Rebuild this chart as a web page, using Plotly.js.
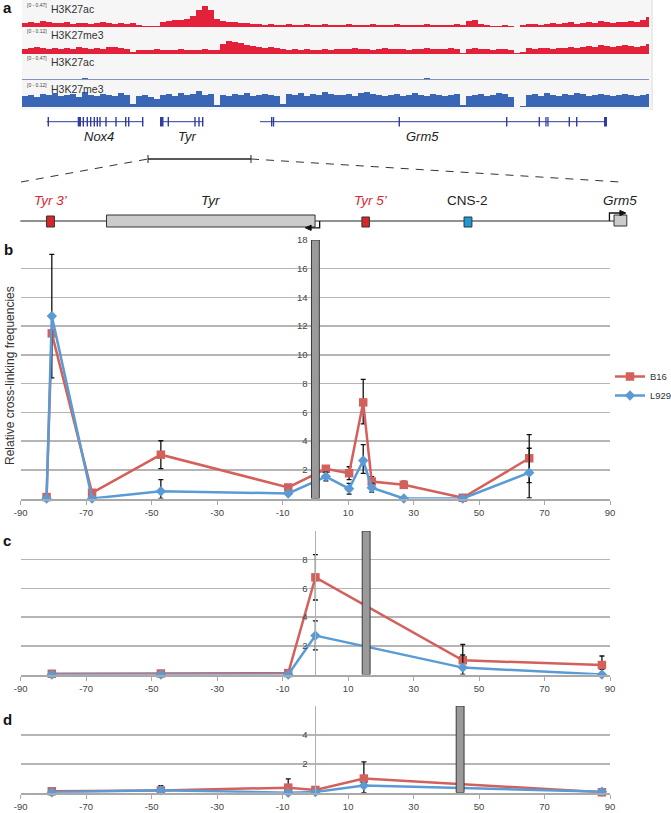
<!DOCTYPE html>
<html><head><meta charset="utf-8">
<script src="https://cdn.plot.ly/plotly-3.0.1.min.js"></script>
<style>html,body{margin:0;padding:0;background:#fff}#chart{width:671px;height:813px}</style>
</head><body><div id="chart"></div>
<script>
// ---------- shared tick labels ----------
const xTickVals = [-90, -70, -50, -30, -10, 10, 30, 50, 70, 90];
const xTickText = ['-90', '-70', '-50', '-30', '-10', '10', '30', '50', '70', '90'];

// ---------- panel b ----------
const posB = [-82.1, -80.5, -68.2, -47.2, -8.3, 3.2, 10.3, 14.6, 17.2, 27.0, 45.0, 65.3];
const b16B = [0.1, 11.5, 0.4, 3.05, 0.77, 2.07, 1.76, 6.69, 1.18, 0.95, 0.05, 2.8];
const b16BErrUp = [0, 0, 0.2, 0.97, 0.2, 0.2, 0.45, 1.6, 0.35, 0.25, 0, 1.65];
const b16BErrDn = [0, 0, 0.2, 0.97, 0.2, 0.2, 0.45, 1.5, 0.35, 0.25, 0, 1.7];
const l929B = [0, 12.7, 0, 0.51, 0.35, 1.53, 0.68, 2.65, 0.75, 0, 0, 1.8];
const l929BErrUp = [0, 4.3, 0, 0.8, 0.1, 0.3, 0.38, 1.1, 0.3, 0, 0, 1.7];
const l929BErrDn = [0, 4.3, 0, 0.51, 0.1, 0.3, 0.38, 0.9, 0.3, 0, 0, 1.75];
const yTickB = [2, 4, 6, 8, 10, 12, 14, 16, 18];

// ---------- panel c ----------
const posC = [-80.5, -47.2, -8.3, 0, 45, 87.5];
const b16C = [0.05, 0.07, 0.1, 6.77, 0.99, 0.66];
const b16CErrUp = [0, 0, 0, 1.58, 1.1, 0.63];
const b16CErrDn = [0, 0, 0, 1.58, 0.6, 0.3];
const l929C = [0, 0, 0, 2.71, 0.48, 0];
const l929CErrUp = [0, 0, 0, 1.03, 0.88, 0];
const l929CErrDn = [0, 0, 0, 1.0, 0.48, 0];
const yTickC = [2, 4, 6, 8, 10];
const yTickTextC = ['2', '4', '6', '8', ''];

// ---------- panel d ----------
const posD = [-80.5, -47.2, -8.3, 0, 14.8, 87.5];
const b16D = [0.1, 0.15, 0.35, 0.19, 0.98, 0.03];
const b16DErrUp = [0, 0.33, 0.6, 0.12, 1.15, 0];
const b16DErrDn = [0, 0.1, 0.2, 0.1, 0.3, 0];
const l929D = [0.03, 0.17, 0, 0.05, 0.49, 0.07];
const l929DErrUp = [0, 0.1, 0, 0, 0.2, 0];
const l929DErrDn = [0, 0.1, 0, 0.05, 0.49, 0];
const yTickD = [2, 4, 6];
const yTickTextD = ['2', '4', ''];

// viewpoints (grey bars) for b, c, d
const viewpointPos = [0, 15.5, 44.2];
const viewpointTop = [18, 10, 6];
const viewpointWidth = 2.4;

// ---------- locus diagram (kb, same scale as b) ----------
const locusStart = -90.1, locusEnd = 94.9;
const featNames = ['<i>Tyr 3’</i>', '<i>Tyr</i>', '<i>Tyr 5’</i>', 'CNS-2', '<i>Grm5</i>'];
const featStart = [-82.1, -63.8, 14.2, 45.4, 91.2];
const featEnd = [-79.7, -0.1, 16.5, 47.8, 95.1];

// ---------- panel a : browser tracks (bin = 6 units) ----------
const trackNames = ['H3K27ac', 'H3K27me3', 'H3K27ac', 'H3K27me3'];
const trackRanges = ['[0 - 0.47]', '[0 - 0.12]', '[0 - 0.47]', '[0 - 0.12]'];
const trackMax = [0.47, 0.12, 0.47, 0.12];
const acB16 = [0.086,0.107,0.086,0.128,0.107,0.086,0.086,0.107,0.064,0.086,0.086,0.064,0.086,0.107,0.086,0.064,0.086,0.064,0.086,0.043,
 0.032,0.021,0.032,0.107,0.128,0.15,0.15,0.171,0.235,0.363,0.449,0.363,0.171,0.128,0.107,0.107,0.086,0.086,0.064,0.064,0.043,0.064,0.043,
 0.043,0.064,0.043,0.043,0.064,0.043,0.043,0.064,0.043,0.043,
 0.043,0.064,0.043,0.043,0.043,0.064,0.043,0.043,0.043,0.064,0.043,0.043,0.043,0.043,0.064,0.043,0.043,0.043,0.043,0.064,0.043,
 0.128,0.15,0.064,0.043,0.032,0.032,0.043,0.032,0,0.043,0.064,0.064,0.043,0.064,0.086,0.064,0.086,0.107,0.064,
 0.086,0.107,0.086,0.128,0.107,0.086,0.107,0.107,0.128,0.107,0.15,0.214];
const me3B16 = [0.027,0.033,0.038,0.033,0.027,0.033,0.027,0.033,0.027,0.038,0.033,0.027,0.033,0.027,0.038,0.038,0.033,0.027,
 0.011,0.022,
 0.022,0.022,0.027,0.022,0.022,0.022,0.027,0.022,0.022,0.022,0.027,0.022,0.022,
 0.055,0.071,0.065,0.06,0.049,0.044,0.038,0.033,0.038,0.033,0.027,
 0.022,0.027,0.022,0.027,0.022,0.022,0.027,0.022,0.027,
 0.027,0.027,0.033,0.027,0.027,0.022,0.027,0.033,0.027,0.027,0.027,0.022,0.027,0.027,0.033,0.027,0.027,0.027,0.033,0.027,
 0.005,0.027,0.033,0.027,0.027,0.022,0.027,0.027,0.022,0.005,0.011,
 0.033,0.027,0.033,0.033,0.027,0.033,0.033,0.038,0.033,
 0.038,0.044,0.038,0.049,0.044,0.038,0.044,0.049,0.044,0.038,0.044,0.055];
const acL929 = [0.011,0.011,0.011,0.011,0.011,0.011,0.017,0.011,0.011,0.011,0.043,0.017,0.032,0.011,0.017,0.011,0.021,0.011,0.011,0.011,
 0.017,0.011,0.011,0.021,0.011,0.021,0.011,0.011,0.026,0.011,0.011,0.017,0.021,0.011,0.011,0.021,0.011,0.017,0.011,0.021,
 0.011,0.011,0.017,0.011,0.021,0.011,0.011,0.011,0.021,0.011,0.017,0.011,0.011,0.021,0.011,0.017,0.011,0.011,0.021,0.011,
 0.011,0.017,0.011,0.011,0.021,0.011,0.011,0.053,0.017,0.011,0.011,0.021,0.011,0.011,0.017,0.011,0.011,0.011,0.017,0.011,
 0.011,0.011,0.011,0.011,0.011,0.017,0.011,0.021,0.011,0.011,0.032,0.011,0.011,0.021,0.011,0.032,0.011,0.011,0.011,0.021,0.011,0.011,0.021,0.011,0.017];
const me3L929 = [0.06,0.065,0.055,0.071,0.065,0.076,0.06,0.065,0.071,0.055,0.082,0.065,0.06,0.071,0.065,0.06,0.076,0.065,
 0.016,0.06,0.065,0.055,0.044,
 0.065,0.071,0.06,0.076,0.065,0.071,0.087,0.065,0.071,0.011,
 0.065,0.06,0.071,0.065,0.076,0.06,0.065,0.071,0.065,0.06,0.016,
 0.071,0.065,0.076,0.06,0.071,0.065,0.082,0.071,0.065,
 0.065,0.071,0.06,0.076,0.082,0.071,0.065,0.06,0.065,0.071,0.06,0.065,0.076,0.065,0.06,0.071,0.065,0.06,0.065,0.071,
 0.011,0.06,0.065,0.071,0.06,0.065,0.076,0.071,0.055,0,0.005,
 0.065,0.071,0.06,0.076,0.065,0.06,0.071,0.065,0.076,0.071,0.06,0.065,0.071,0.065,0.06,0.065,0.071,0.065,0.06,0.065,0.071];
const binWidth = 6;

// gene models (track coordinates)
const geneNames = ['<i>Nox4</i>', '<i>Tyr</i>', '<i>Grm5</i>'];
const geneStarts = [24.7, 138, 238];
const geneEnds = [121.3, 181.3, 584];
const geneLabelPos = [77, 165, 400];
const exonStarts = [25.6,55.7,60.6,64.6,68,71.6,74.6,77.3,83.3,93.3,103,106,120, 138,145.6,172.3,176.3,180, 249,250.9,376.6,484,516.6,523.3,525.3,546.6,554,582];
const exonEnds   = [27,59,62,66,69.4,73,76,78.7,84.7,94.7,104.4,107.4,121.4, 141.5,147,173.7,177.7,181.4, 250.4,252.2,378,485.4,518,524.6,526.6,548,555.4,585];

// ---------- helpers (layout px -> paper) ----------
const W = 671, H = 813;
const X = px => px / W;
const Y = py => 1 - py / H;

const RED = '#d4605b', BLUE = '#5b9bd5';
const FONT = 'Liberation Sans, Arial, Helvetica, sans-serif';
const errStyle = (up, dn) => ({type: 'data', symmetric: false, array: up, arrayminus: dn, color: '#111', thickness: 1.3, width: 2.5});

function series(x, y, up, dn, name, color, symbol, xa, ya, legend) {
  return {
    x: x, y: y, xaxis: xa, yaxis: ya, type: 'scatter', mode: 'lines+markers', name: name,
    legendgroup: name, showlegend: legend, cliponaxis: false,
    line: {color: color, width: 2.5},
    marker: {symbol: symbol, size: symbol === 'square' ? 8.5 : 8, color: color},
    error_y: errStyle(up, dn), hoverinfo: 'skip'
  };
}

const data = [
  series(posB, b16B, b16BErrUp, b16BErrDn, 'B16', RED, 'square', 'x', 'y', true),
  series(posB, l929B, l929BErrUp, l929BErrDn, 'L929', BLUE, 'diamond', 'x', 'y', true),
  series(posC, b16C, b16CErrUp, b16CErrDn, 'B16', RED, 'square', 'x2', 'y2', false),
  series(posC, l929C, l929CErrUp, l929CErrDn, 'L929', BLUE, 'diamond', 'x2', 'y2', false),
  series(posD, b16D, b16DErrUp, b16DErrDn, 'B16', RED, 'square', 'x3', 'y3', false),
  series(posD, l929D, l929DErrUp, l929DErrDn, 'L929', BLUE, 'diamond', 'x3', 'y3', false),
  // locus backbone
  {x: [locusStart, locusEnd], y: [0, 0], xaxis: 'x5', yaxis: 'y8', type: 'scatter', mode: 'lines',
   line: {color: '#222', width: 1}, showlegend: false, hoverinfo: 'skip'}
];

const trackData = [acB16, me3B16, acL929, me3L929];
const trackColors = ['#e3213a', '#e3213a', '#3a66b6', '#3a66b6'];
trackData.forEach((vals, k) => {
  data.push({
    type: 'bar', x: vals.map((_, i) => (i + 0.5) * binWidth), y: vals, width: binWidth,
    xaxis: 'x4', yaxis: 'y' + (4 + k), marker: {color: trackColors[k], line: {width: 0}},
    showlegend: false, hoverinfo: 'skip'
  });
});

// ---------- shapes ----------
const shapes = [];
shapes.push({type: 'rect', xref: 'paper', yref: 'paper', x0: X(22), x1: X(651), y0: Y(110), y1: Y(0),
  fillcolor: '#f6f6f6', line: {width: 0}, layer: 'below'});
shapes.push({type: 'line', xref: 'paper', yref: 'paper', x0: X(652), x1: X(652), y0: Y(110), y1: Y(0),
  line: {color: '#e4e4e4', width: 1.5}});
shapes.push({type: 'line', xref: 'x4', yref: 'y6', x0: 0, x1: 627, y0: 0, y1: 0, line: {color: '#c4c4c4', width: 1}});
geneStarts.forEach((s, i) => shapes.push({type: 'line', xref: 'x4', yref: 'paper', x0: s, x1: geneEnds[i],
  y0: Y(121.7), y1: Y(121.7), line: {color: '#2e3d9e', width: 1}}));
exonStarts.forEach((s, i) => shapes.push({type: 'rect', xref: 'x4', yref: 'paper', x0: s, x1: exonEnds[i],
  y0: Y(126.5), y1: Y(117), fillcolor: '#2e3d9e', line: {width: 0}}));
// zoom bracket
shapes.push({type: 'line', xref: 'paper', yref: 'paper', x0: X(148), x1: X(251), y0: Y(159), y1: Y(159), line: {color: '#222', width: 1.3}});
shapes.push({type: 'line', xref: 'paper', yref: 'paper', x0: X(148), x1: X(148), y0: Y(163), y1: Y(155), line: {color: '#222', width: 1}});
shapes.push({type: 'line', xref: 'paper', yref: 'paper', x0: X(251), x1: X(251), y0: Y(163), y1: Y(155), line: {color: '#222', width: 1}});
shapes.push({type: 'line', xref: 'paper', yref: 'paper', x0: X(21), x1: X(148), y0: Y(182), y1: Y(159), line: {color: '#333', width: 1, dash: '8px,7px'}});
shapes.push({type: 'line', xref: 'paper', yref: 'paper', x0: X(251), x1: X(620), y0: Y(159), y1: Y(182), line: {color: '#333', width: 1, dash: '8px,7px'}});
// locus features
const featFill = ['#d7262b', '#cbcbcb', '#d7262b', '#1a9bd7', '#cbcbcb'];
const featTop = [216, 215, 217, 217, 215];
const featBot = [227, 227, 227, 227, 226];
featStart.forEach((s, i) => shapes.push({type: 'rect', xref: 'x5', yref: 'paper', x0: s, x1: featEnd[i],
  y0: Y(featBot[i]), y1: Y(featTop[i]), fillcolor: featFill[i], line: {color: '#333', width: 1}}));
shapes.push({type: 'path', xref: 'x5', yref: 'paper',
  path: `M 1.3,${Y(221)} L 1.3,${Y(227.8)} L -1.6,${Y(227.8)}`, line: {color: '#111', width: 1.3}});
shapes.push({type: 'path', xref: 'x5', yref: 'paper',
  path: `M -1.3,${Y(225.2)} L -3.1,${Y(227.8)} L -1.3,${Y(230.4)} Z`, fillcolor: '#111', line: {color: '#111', width: 1}});
shapes.push({type: 'path', xref: 'x5', yref: 'paper',
  path: `M 89.8,${Y(221)} L 89.8,${Y(213)} L 93.2,${Y(213)}`, line: {color: '#111', width: 1.3}});
shapes.push({type: 'path', xref: 'x5', yref: 'paper',
  path: `M 93.0,${Y(210.4)} L 94.8,${Y(213)} L 93.0,${Y(215.6)} Z`, fillcolor: '#111', line: {color: '#111', width: 1}});
// viewpoint bars
['', '2', '3'].forEach((s, i) => shapes.push({type: 'rect', xref: 'x' + s, yref: 'y' + s,
  x0: viewpointPos[i] - viewpointWidth / 2, x1: viewpointPos[i] + viewpointWidth / 2, y0: 0, y1: viewpointTop[i],
  fillcolor: '#9a9a9a', line: {color: '#3a3a3a', width: 1}, layer: 'above'}));

// ---------- annotations ----------
const ann = [];
const letter = (t, px, py) => ann.push({text: '<b>' + t + '</b>', x: X(px), y: Y(py), xref: 'paper', yref: 'paper',
  showarrow: false, font: {size: 15, color: '#111', family: FONT}, xanchor: 'center', yanchor: 'middle'});
letter('a', 7, 8); letter('b', 8, 249); letter('c', 7, 540); letter('d', 7, 719);

const trackLabelY = [9.5, 35.5, 62.5, 89.5];
trackNames.forEach((n, k) => {
  ann.push({text: trackRanges[k], x: X(25), y: Y(trackLabelY[k] - 4.5), xref: 'paper', yref: 'paper', showarrow: false,
    xanchor: 'left', yanchor: 'middle', font: {size: 5, color: '#444', family: FONT}});
  ann.push({text: n, x: X(49), y: Y(trackLabelY[k]), xref: 'paper', yref: 'paper', showarrow: false,
    xanchor: 'left', yanchor: 'middle', font: {size: 10.5, color: '#333', family: FONT}});
});
geneNames.forEach((n, i) => ann.push({text: n, x: geneLabelPos[i], xref: 'x4', y: Y(137), yref: 'paper', showarrow: false,
  xanchor: 'center', yanchor: 'middle', font: {size: 13, color: '#222', family: FONT}}));
const featLabelColor = ['#e0262f', '#222', '#e0262f', '#222', '#222'];
featNames.forEach((n, i) => ann.push({text: n, x: (featStart[i] + featEnd[i]) / 2 + (i === 2 ? 1.5 : 0) + (i === 4 ? 0 : 0),
  xref: 'x5', y: Y(200), yref: 'paper', showarrow: false, xanchor: 'center', yanchor: 'middle',
  font: {size: 13.5, color: featLabelColor[i], family: FONT}}));
ann.push({text: 'Relative cross-linking frequencies', x: X(10), y: Y(376), xref: 'paper', yref: 'paper', showarrow: false,
  textangle: -90, xanchor: 'center', yanchor: 'middle', font: {size: 12, color: '#333', family: FONT}});

// ---------- axes ----------
const xCommon = (anchor) => ({domain: [X(20.7), X(610.1)], range: [-90, 90], anchor: anchor, tickmode: 'array',
  tickvals: xTickVals, ticktext: xTickText, showline: true, linecolor: '#a9a9a9', linewidth: 2,
  ticks: 'outside', ticklen: 4, tickcolor: '#a9a9a9', tickwidth: 1, tickfont: {size: 9.5, color: '#444', family: FONT},
  showgrid: false, zeroline: false, fixedrange: true});
const yCommon = (dom, range, vals, text) => ({domain: dom, range: range, anchor: 'free', position: X(315.4),
  tickmode: 'array', tickvals: vals, ticktext: text || vals.map(String), showgrid: true, gridcolor: '#b5b5b5', gridwidth: 1.5,
  showline: true, linecolor: '#b0b0b0', linewidth: 1, ticks: '', ticklabelstandoff: 6,
  tickfont: {size: 9.5, color: '#444', family: FONT}, zeroline: false, fixedrange: true});
const hidden = (o) => Object.assign({visible: false, fixedrange: true, showgrid: false, zeroline: false}, o);

const layout = {
  width: W, height: H, margin: {l: 0, r: 0, t: 0, b: 0, pad: 0, autoexpand: false},
  paper_bgcolor: '#fff', plot_bgcolor: 'rgba(0,0,0,0)', font: {family: FONT, color: '#333'},
  barmode: 'overlay', bargap: 0, showlegend: true,
  legend: {x: X(610), y: Y(362), xanchor: 'left', yanchor: 'top', bgcolor: 'rgba(0,0,0,0)', borderwidth: 0,
    font: {size: 9.5, color: '#333', family: FONT}, itemwidth: 30, tracegroupgap: 0},
  xaxis: xCommon('y'), xaxis2: xCommon('y2'), xaxis3: xCommon('y3'),
  yaxis: yCommon([Y(498.5), Y(240)], [0, 18], yTickB),
  yaxis2: yCommon([Y(674.5), Y(531)], [0, 10], yTickC, yTickTextC),
  yaxis3: yCommon([Y(792.7), Y(706)], [0, 6], yTickD, yTickTextD),
  xaxis4: hidden({domain: [X(22), X(649)], range: [0, 627], anchor: 'y4'}),
  yaxis4: hidden({domain: [Y(27.3), Y(5)], range: [0, trackMax[0]], anchor: 'x4'}),
  yaxis5: hidden({domain: [Y(54), Y(31.5)], range: [0, trackMax[1]], anchor: 'x4'}),
  yaxis6: hidden({domain: [Y(80), Y(58)], range: [0, trackMax[2]], anchor: 'x4'}),
  yaxis7: hidden({domain: [Y(107.3), Y(85)], range: [0, trackMax[3]], anchor: 'x4'}),
  xaxis5: hidden({domain: [0, 1], range: [-315.4 / 3.2744, (671 - 315.4) / 3.2744], anchor: 'y8'}),
  yaxis8: hidden({domain: [Y(231), Y(211)], range: [-1, 1], anchor: 'x5'}),
  shapes: shapes, annotations: ann
};

Plotly.newPlot('chart', data, layout, {displayModeBar: false, staticPlot: true});
</script>
</body></html>
